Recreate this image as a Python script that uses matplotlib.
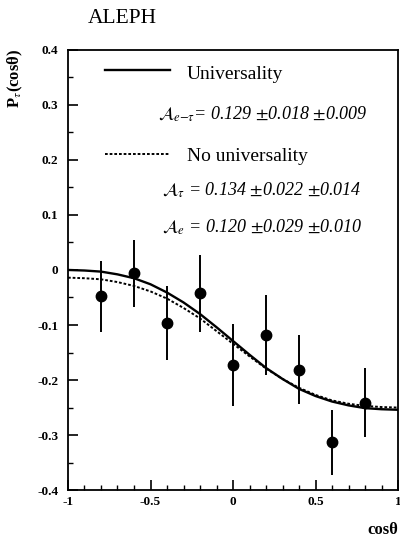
import numpy as np
import matplotlib
matplotlib.use("Agg")
import matplotlib.pyplot as plt
from matplotlib.ticker import MultipleLocator

plt.rcParams['font.family'] = ['Liberation Serif', 'DejaVu Serif']
plt.rcParams['mathtext.fontset'] = 'stix'

# measured points
cos_pts = [-0.8, -0.6, -0.4, -0.2, 0.0, 0.2, 0.4, 0.6, 0.8]
p_tau = [-0.048, -0.006, -0.097, -0.042, -0.173, -0.118, -0.181, -0.313, -0.241]
p_err = [0.065, 0.061, 0.067, 0.070, 0.074, 0.073, 0.062, 0.059, 0.062]

# curves
cos_curve = [-1.0, -0.9, -0.8, -0.7, -0.6, -0.5, -0.4, -0.3, -0.2, -0.1, 0.0,
             0.1, 0.2, 0.3, 0.4, 0.5, 0.6, 0.7, 0.8, 0.9, 1.0]
univ = [0.000, -0.001, -0.003, -0.008, -0.015, -0.026, -0.041, -0.059, -0.080, -0.104, -0.129,
        -0.154, -0.178, -0.198, -0.216, -0.229, -0.239, -0.246, -0.251, -0.253, -0.254]
no_univ = [-0.014, -0.015, -0.017, -0.022, -0.029, -0.039, -0.052, -0.069, -0.088, -0.111, -0.134,
           -0.157, -0.179, -0.198, -0.214, -0.227, -0.237, -0.243, -0.247, -0.249, -0.250]

xticks = [-1, -0.5, 0, 0.5, 1]
xlabels = ['-1', '-0.5', '0', '0.5', '1']
yticks = [-0.4, -0.3, -0.2, -0.1, 0, 0.1, 0.2, 0.3, 0.4]
ylabels = ['-0.4', '-0.3', '-0.2', '-0.1', '0', '0.1', '0.2', '0.3', '0.4']

fig = plt.figure(figsize=(4, 5.41), dpi=100)
ax = fig.add_axes([0.17, 0.094, 0.825, 0.814])

dash = (0, (1.4, 1.0))
ax.plot(cos_curve, univ, color='black', lw=1.7)
ax.plot(cos_curve, no_univ, color='black', lw=1.4, ls=dash)
ax.errorbar(cos_pts, p_tau, yerr=p_err, fmt='o', color='black', ms=7.5, elinewidth=1.4, capsize=0)

ax.set_xlim(-1, 1)
ax.set_ylim(-0.4, 0.4)
ax.set_xticks(xticks)
ax.set_xticklabels(xlabels, fontweight='bold', fontsize=9.5)
ax.set_yticks(yticks)
ax.set_yticklabels(ylabels, fontweight='bold', fontsize=9.5)
ax.xaxis.set_minor_locator(MultipleLocator(0.1))
ax.yaxis.set_minor_locator(MultipleLocator(0.05))
ax.tick_params(which='major', direction='in', length=7, width=1.2, pad=4)
ax.tick_params(which='minor', direction='in', length=3.5, width=1)
ax.tick_params(axis='y', pad=7)
for s in ax.spines.values():
    s.set_linewidth(1.3)

# legend drawn by hand
ax.plot([-0.776, -0.382], [0.364, 0.364], color='black', lw=1.7)
ax.text(-0.279, 0.355, 'Universality', fontsize=14, va='center')
ax.text(-0.455, 0.282, r'$\mathcal{A}_{e\mathrm{-}\tau}$= 0.129 $\pm$0.018 $\pm$0.009',
        fontsize=13, style='italic', va='center')
ax.plot([-0.776, -0.382], [0.211, 0.211], color='black', lw=1.4, ls=dash)
ax.text(-0.279, 0.207, 'No universality', fontsize=14, va='center')
ax.text(-0.43, 0.145, r'$\mathcal{A}_{\tau}$ = 0.134 $\pm$0.022 $\pm$0.014',
        fontsize=13, style='italic', va='center')
ax.text(-0.43, 0.078, r'$\mathcal{A}_{e}$ = 0.120 $\pm$0.029 $\pm$0.010',
        fontsize=13, style='italic', va='center')

fig.text(0.22, 0.966, 'ALEPH', fontsize=15.5, va='center')
fig.text(0.038, 0.855, r'P$_\tau$(cosθ)', fontsize=12, fontweight='bold',
         rotation=90, va='center', ha='center')
fig.text(0.995, 0.02, 'cosθ', fontsize=12, fontweight='bold', ha='right', va='center')

fig.savefig('out.png', dpi=100)
